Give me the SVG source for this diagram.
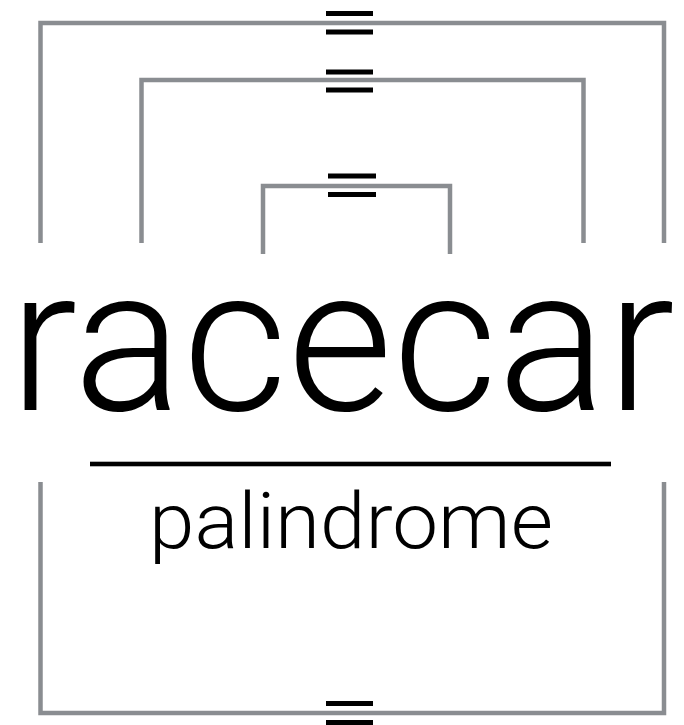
<svg xmlns="http://www.w3.org/2000/svg" width="684" height="725" viewBox="0 0 684 725">
<style>
.br{fill:none;stroke:#8a8d91;stroke-width:4.5;stroke-linecap:butt;stroke-linejoin:miter}
.eq{fill:#000}
.t{font-family:Roboto,"Liberation Sans",sans-serif;font-weight:300;fill:#000}
</style>
<rect width="684" height="725" fill="#fff"/>
<g id="connectors">
<path class="br" d="M40.5 243V23H664V243"/>
<path class="br" d="M141.5 243V80H583.5V243"/>
<path class="br" d="M263 254V186H450V254"/>
<path class="br" d="M40.5 482V713H664V482"/>
</g>
<g id="eq-outer"><rect class="eq" x="326" y="11" width="47" height="5"/><rect class="eq" x="326" y="29.5" width="47" height="5"/></g>
<g id="eq-middle"><rect class="eq" x="326" y="69.5" width="47" height="5"/><rect class="eq" x="326" y="87.5" width="47" height="5"/></g>
<g id="eq-inner"><rect class="eq" x="328" y="173.5" width="48" height="5"/><rect class="eq" x="328" y="192" width="48" height="5"/></g>
<g id="eq-bottom"><rect class="eq" x="326" y="701" width="47" height="5"/><rect class="eq" x="326" y="720" width="47" height="5"/></g>
<g id="word"><text class="t" x="9" y="410" font-size="202" textLength="666" lengthAdjust="spacingAndGlyphs">racecar</text></g>
<g id="rule"><rect x="90" y="461.7" width="521" height="4.6" fill="#000"/></g>
<g id="label"><text class="t" x="149" y="548" font-size="77" textLength="404" lengthAdjust="spacingAndGlyphs">palindrome</text></g>
</svg>
